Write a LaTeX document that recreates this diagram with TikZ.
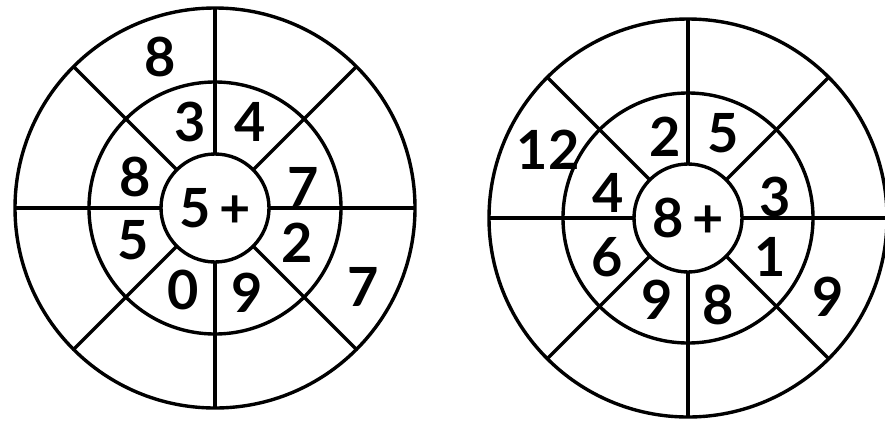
\documentclass[tikz,border=0pt]{standalone}
\usepackage{fontspec}
\setmainfont{Lato}
\usetikzlibrary{positioning}

\begin{document}
\begin{tikzpicture}[x=1pt,y=-1pt,
  ring/.style={draw,circle,line width=3.4pt,inner sep=0pt,outer sep=0pt},
  spoke/.style={line width=3.4pt},
  num/.style={font=\fontsize{54}{54}\selectfont\bfseries,inner sep=0pt}]
\useasboundingbox[fill=white] (0,0) rectangle (885,437);
% left wheel
\node[ring,minimum size=400pt] (lout) at (215,208) {};
\node[ring,minimum size=252pt] (lmid) at (215,208) {};
\node[ring,minimum size=108pt,num] (lin) at (215,208) {5\,+};
\foreach \a in {0,45,...,315}
  \draw[spoke] (lin.\a) -- (lout.\a);
\node[num] (la) at (160,57) {8};
\node[num] (lb) at (190,122) {3};
\node[num] (lc) at (250,122) {4};
\node[num] (ld) at (135,177) {8};
\node[num] (le) at (133,240) {5};
\node[num] (lf) at (303,187) {7};
\node[num] (lg) at (297,243) {2};
\node[num] (lh) at (183,290) {0};
\node[num] (li) at (247,293) {9};
\node[num] (lj) at (363,287) {7};
% right wheel
\node[ring,minimum size=398pt] (rout) at (688,218) {};
\node[ring,minimum size=250pt] (rmid) at (688,218) {};
\node[ring,minimum size=108pt,num] (rin) at (688,218) {8\,+};
\foreach \a in {0,45,...,315}
  \draw[spoke] (rin.\a) -- (rout.\a);
\node[num] (ra) at (548,150) {12};
\node[num] (rb) at (665,137) {2};
\node[num] (rc) at (723,133) {5};
\node[num] (rd) at (608,193) {4};
\node[num] (re) at (775,197) {3};
\node[num] (rf) at (607,257) {6};
\node[num] (rg) at (770,257) {1};
\node[num] (rh) at (657,300) {9};
\node[num] (ri) at (718,305) {8};
\node[num] (rj) at (828,297) {9};
\end{tikzpicture}
\end{document}
